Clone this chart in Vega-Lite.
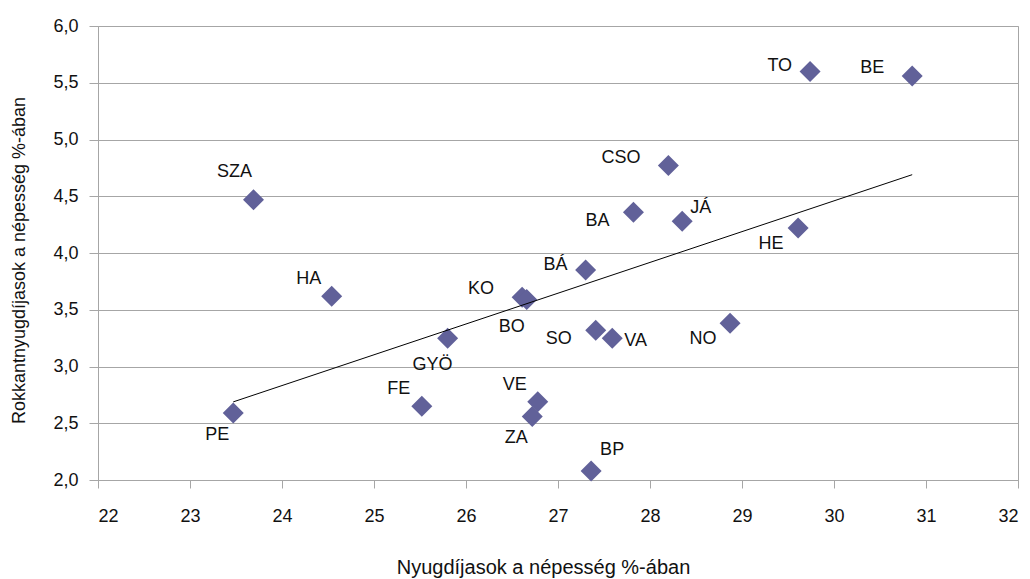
{
  "$schema": "https://vega.github.io/schema/vega-lite/v6.json",
  "width": 920,
  "height": 454,
  "autosize": "none",
  "padding": {"left": 98, "top": 26, "right": 12, "bottom": 99},
  "background": "white",
  "config": {
    "font": "Liberation Sans",
    "view": {"stroke": "#a6a6a6", "strokeWidth": 1},
    "axis": {
      "labelFont": "Liberation Sans",
      "titleFont": "Liberation Sans",
      "labelFontSize": 18,
      "titleFontWeight": "normal",
      "labelColor": "#111111",
      "titleColor": "#111111",
      "domainColor": "#a6a6a6",
      "tickColor": "#a6a6a6",
      "gridColor": "#a6a6a6",
      "gridOpacity": 1
    }
  },
  "data": {
    "values": [
      {"megye": "PE", "nyugdijas": 23.47, "rokkant": 2.59},
      {"megye": "SZA", "nyugdijas": 23.69, "rokkant": 4.47},
      {"megye": "HA", "nyugdijas": 24.54, "rokkant": 3.62},
      {"megye": "FE", "nyugdijas": 25.52, "rokkant": 2.65},
      {"megye": "GYÖ", "nyugdijas": 25.80, "rokkant": 3.25},
      {"megye": "KO", "nyugdijas": 26.61, "rokkant": 3.61},
      {"megye": "BO", "nyugdijas": 26.66, "rokkant": 3.59},
      {"megye": "ZA", "nyugdijas": 26.72, "rokkant": 2.56},
      {"megye": "VE", "nyugdijas": 26.78, "rokkant": 2.69},
      {"megye": "BÁ", "nyugdijas": 27.30, "rokkant": 3.85},
      {"megye": "BP", "nyugdijas": 27.36, "rokkant": 2.08},
      {"megye": "SO", "nyugdijas": 27.41, "rokkant": 3.32},
      {"megye": "VA", "nyugdijas": 27.59, "rokkant": 3.25},
      {"megye": "BA", "nyugdijas": 27.82, "rokkant": 4.36},
      {"megye": "CSO", "nyugdijas": 28.20, "rokkant": 4.77},
      {"megye": "JÁ", "nyugdijas": 28.35, "rokkant": 4.28},
      {"megye": "NO", "nyugdijas": 28.87, "rokkant": 3.38},
      {"megye": "HE", "nyugdijas": 29.61, "rokkant": 4.22},
      {"megye": "TO", "nyugdijas": 29.74, "rokkant": 5.60},
      {"megye": "BE", "nyugdijas": 30.85, "rokkant": 5.56}
    ]
  },
  "encoding": {
    "x": {
      "field": "nyugdijas",
      "type": "quantitative",
      "scale": {"domain": [22, 32], "nice": false, "zero": false},
      "axis": {
        "title": "Nyugdíjasok a népesség %-ában",
        "titleFontSize": 20,
        "titleX": 445,
        "values": [22, 23, 24, 25, 26, 27, 28, 29, 30, 31, 32],
        "grid": false,
        "tickSize": 8,
        "labelPadding": 19,
        "titlePadding": 32
      }
    },
    "y": {
      "field": "rokkant",
      "type": "quantitative",
      "scale": {"domain": [2, 6], "nice": false, "zero": false},
      "axis": {
        "title": "Rokkantnyugdíjasok a népesség %-ában",
        "titleFontSize": 18,
        "titleY": 234,
        "values": [2, 2.5, 3, 3.5, 4, 4.5, 5, 5.5, 6],
        "labelExpr": "replace(format(datum.value, '.1f'), '.', ',')",
        "grid": true,
        "tickSize": 9,
        "labelPadding": 11,
        "titlePadding": 24
      }
    }
  },
  "layer": [
    {
      "mark": {"type": "point", "shape": "diamond", "filled": true, "size": 441, "color": "#616199", "opacity": 1}
    },
    {
      "transform": [{"regression": "rokkant", "on": "nyugdijas"}],
      "mark": {"type": "line", "color": "#000000", "strokeWidth": 1}
    },
    {
      "transform": [{"filter": {"field": "megye", "oneOf": ["KO", "CSO", "BE"]}}],
      "mark": {"type": "text", "align": "right", "baseline": "middle", "dx": -28, "dy": -8, "fontSize": 18, "color": "#111111"},
      "encoding": {"text": {"field": "megye"}}
    },
    {
      "transform": [{"filter": {"field": "megye", "oneOf": ["TO", "BÁ"]}}],
      "mark": {"type": "text", "align": "right", "baseline": "middle", "dx": -18, "dy": -5, "fontSize": 18, "color": "#111111"},
      "encoding": {"text": {"field": "megye"}}
    },
    {
      "transform": [{"filter": {"field": "megye", "oneOf": ["SO", "BA"]}}],
      "mark": {"type": "text", "align": "right", "baseline": "middle", "dx": -24, "dy": 9, "fontSize": 18, "color": "#111111"},
      "encoding": {"text": {"field": "megye"}}
    },
    {
      "transform": [{"filter": {"field": "megye", "oneOf": ["BO", "GYÖ"]}}],
      "mark": {"type": "text", "align": "center", "baseline": "middle", "dx": -15, "dy": 27, "fontSize": 18, "color": "#111111"},
      "encoding": {"text": {"field": "megye"}}
    },
    {
      "transform": [{"filter": {"field": "megye", "oneOf": ["PE", "ZA"]}}],
      "mark": {"type": "text", "align": "center", "baseline": "middle", "dx": -16, "dy": 22, "fontSize": 18, "color": "#111111"},
      "encoding": {"text": {"field": "megye"}}
    },
    {
      "transform": [{"filter": {"field": "megye", "oneOf": ["HE", "NO"]}}],
      "mark": {"type": "text", "align": "center", "baseline": "middle", "dx": -27, "dy": 16, "fontSize": 18, "color": "#111111"},
      "encoding": {"text": {"field": "megye"}}
    },
    {
      "transform": [{"filter": {"field": "megye", "oneOf": ["HA", "FE", "VE"]}}],
      "mark": {"type": "text", "align": "center", "baseline": "middle", "dx": -23, "dy": -17, "fontSize": 18, "color": "#111111"},
      "encoding": {"text": {"field": "megye"}}
    },
    {
      "transform": [{"filter": {"field": "megye", "equal": "SZA"}}],
      "mark": {"type": "text", "align": "center", "baseline": "middle", "dx": -19, "dy": -28, "fontSize": 18, "color": "#111111"},
      "encoding": {"text": {"field": "megye"}}
    },
    {
      "transform": [{"filter": {"field": "megye", "equal": "VA"}}],
      "mark": {"type": "text", "align": "left", "baseline": "middle", "dx": 12, "dy": 3, "fontSize": 18, "color": "#111111"},
      "encoding": {"text": {"field": "megye"}}
    },
    {
      "transform": [{"filter": {"field": "megye", "equal": "JÁ"}}],
      "mark": {"type": "text", "align": "left", "baseline": "middle", "dx": 8, "dy": -13, "fontSize": 18, "color": "#111111"},
      "encoding": {"text": {"field": "megye"}}
    },
    {
      "transform": [{"filter": {"field": "megye", "equal": "BP"}}],
      "mark": {"type": "text", "align": "left", "baseline": "middle", "dx": 9, "dy": -21, "fontSize": 18, "color": "#111111"},
      "encoding": {"text": {"field": "megye"}}
    }
  ]
}
